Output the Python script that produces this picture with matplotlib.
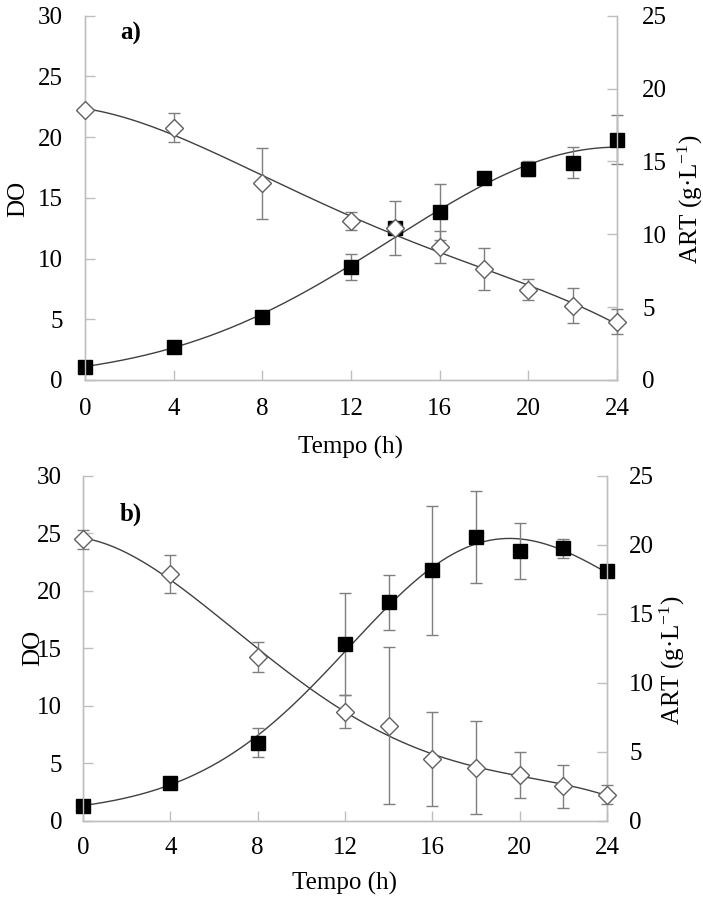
import numpy as np
import matplotlib
matplotlib.use("Agg")
import matplotlib.pyplot as plt

plt.rcParams['font.family'] = ['Liberation Serif', 'DejaVu Serif']
plt.rcParams['mathtext.fontset'] = 'custom'
plt.rcParams['mathtext.rm'] = 'Liberation Serif'
plt.rcParams['mathtext.it'] = 'Liberation Serif:italic'

# ---- data ----
t_hours = [0, 4, 8, 12, 14, 16, 18, 20, 22, 24]
x_ticks = [0, 4, 8, 12, 16, 20, 24]

# panel a)
do_a = [1.1, 2.75, 5.2, 9.3, 12.5, 13.8, 16.6, 17.4, 17.9, 19.8]
do_a_err = [0.0, 0.0, 0.0, 1.1, 2.2, 2.3, 0.0, 0.6, 1.3, 2.0]
art_a = [18.5, 17.3, 13.5, 10.9, 10.4, 9.15, 7.6, 6.2, 5.1, 4.0]
art_a_err = [0.0, 1.0, 2.45, 0.6, 0.0, 1.1, 1.45, 0.7, 1.2, 0.85]

# panel b)
do_b = [1.3, 3.3, 6.8, 15.4, 19.0, 21.8, 24.7, 23.5, 23.7, 21.7]
do_b_err = [0.0, 0.0, 1.25, 4.45, 2.4, 5.6, 4.0, 2.45, 0.85, 0.0]
art_b = [20.4, 17.9, 11.85, 7.9, 6.9, 4.45, 3.85, 3.3, 2.5, 1.9]
art_b_err = [0.7, 1.4, 1.1, 1.2, 5.7, 3.4, 3.4, 1.65, 1.55, 0.7]

W, H = 703, 901


def fx(px):
    return px / W


def fy(py):
    return 1 - py / H


def log_trend(t, y, deg, tt):
    """Polynomial fitted to log(y), returned on the fine grid tt."""
    c = np.polyfit(t, np.log(y), deg)
    return np.exp(np.polyval(c, tt))


def poly_trend(t, y, deg, tt):
    c = np.polyfit(t, y, deg)
    return np.polyval(c, tt)


panels = [
    dict(label="a)", do=do_a, do_err=do_a_err, art=art_a, art_err=art_a_err,
         box=(85, 617, 15.7, 380), deg_do=3, deg_art=4,
         do_lab=(18, 199), art_lab=(690, 199), t_lab=(351, 447), p_lab=(120, 33),
         pads=(13, 16, 18)),
    dict(label="b)", do=do_b, do_err=do_b_err, art=art_b, art_err=art_b_err,
         box=(83, 607, 476, 820.7), deg_do=4, deg_art=4,
         do_lab=(33, 648), art_lab=(672, 660), t_lab=(345, 883), p_lab=(120, 514),
         pads=(12, 15, 16)),
]

spine_c = "#bfbfbf"
line_c = "#404040"
err_c = "#7f7f7f"
fs = 18

fig = plt.figure(figsize=(7.03, 9.01), dpi=100)

for p in panels:
    x0, x1, y0, y1 = p["box"]
    ax = fig.add_axes([fx(x0), fy(y1), fx(x1) - fx(x0), fy(y0) - fy(y1)])
    ax2 = ax.twinx()
    t = np.array(t_hours, dtype=float)
    tt = np.linspace(0, 24, 300)

    # trend lines
    ax.plot(tt, log_trend(t, p["do"], p["deg_do"], tt), color=line_c, lw=1.0,
            zorder=2)
    ax2.plot(tt, poly_trend(t, p["art"], p["deg_art"], tt), color=line_c,
             lw=1.0, zorder=2)

    # DO: filled squares
    ax.errorbar(t, p["do"], yerr=p["do_err"], fmt="none", ecolor=err_c,
                elinewidth=1.0, capsize=4, capthick=1.0, zorder=3, clip_on=False)
    ax.plot(t, p["do"], ls="none", marker="s", ms=10, mfc="black",
            mec="black", zorder=4, clip_on=False)

    # ART: open diamonds
    ax2.errorbar(t, p["art"], yerr=p["art_err"], fmt="none", ecolor=err_c,
                 elinewidth=1.0, capsize=4, capthick=1.0, zorder=3, clip_on=False)
    ax2.plot(t, p["art"], ls="none", marker="D", ms=9, mfc="white",
             mec="#606060", mew=1.0, zorder=4, clip_on=False)

    ax.set_xlim(0, 24)
    ax.set_ylim(0, 30)
    ax2.set_ylim(0, 25)
    ax.set_xticks(x_ticks)
    ax.set_yticks(range(0, 31, 5))
    ax2.set_yticks(range(0, 26, 5))

    for a in (ax, ax2):
        a.spines["top"].set_visible(False)
        for s in ("left", "right", "bottom"):
            a.spines[s].set_color(spine_c)
            a.spines[s].set_linewidth(1.0)
        a.tick_params(direction="in", length=7, width=1.0, color=spine_c,
                      labelsize=fs)
    padx, padl, padr = p["pads"]
    ax.tick_params(axis="x", pad=padx)
    ax.tick_params(axis="y", pad=padl)
    ax2.tick_params(axis="y", pad=padr)
    ax.patch.set_visible(False)

    ax.set_xlabel("Tempo (h)", fontsize=fs)
    ax.set_ylabel("DO", fontsize=fs)
    ax2.set_ylabel("ART (g·L$^{\\mathregular{-1}}$)", fontsize=fs)
    for lab in (ax.xaxis.label, ax.yaxis.label, ax2.yaxis.label):
        lab.set_verticalalignment("center")
        lab.set_horizontalalignment("center")
        lab.set_rotation_mode("default")
    ax.xaxis.set_label_coords(fx(p["t_lab"][0]), fy(p["t_lab"][1]),
                              transform=fig.transFigure)
    ax.yaxis.set_label_coords(fx(p["do_lab"][0]), fy(p["do_lab"][1]),
                              transform=fig.transFigure)
    ax2.yaxis.set_label_coords(fx(p["art_lab"][0]), fy(p["art_lab"][1]),
                               transform=fig.transFigure)

    fig.text(fx(p["p_lab"][0]), fy(p["p_lab"][1]), p["label"], fontsize=fs,
             fontweight="bold", va="center", ha="left")

fig.savefig("out.png", dpi=100)
